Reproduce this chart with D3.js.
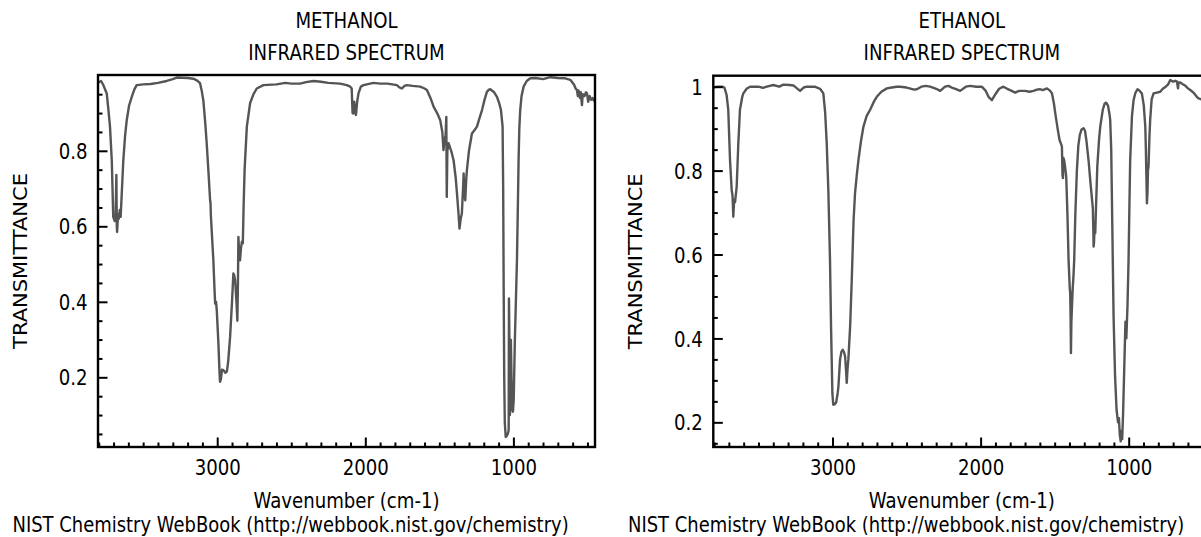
<!DOCTYPE html>
<html>
<head>
<meta charset="utf-8">
<script src="https://cdn.jsdelivr.net/npm/d3@7/dist/d3.min.js"></script>
<style>
  html, body { margin: 0; padding: 0; background: #fff; }
  svg { display: block; }
  text { font-family: "DejaVu Sans", sans-serif; fill: #000; }
</style>
</head>
<body>
<svg id="chart" width="1201" height="537"></svg>
<script>
// ---------------- DATA ----------------
const methanolWavenumber = [3805,3785,3770,3746,3735,3724,3712,3702,3692,3686,3681,3678,3676,3670,3665,3658,3652,3643,3634,3622,3611,3595,3577,3560,3544,3500,3450,3400,3341,3300,3273,3200,3161,3135,3116,3105,3094,3082,3071,3060,3048,3045,3043,3036,3026,3018,3014,3008,3003,2992,2984,2981,2975,2968,2958,2945,2935,2928,2925,2913,2900,2891,2885,2879,2870,2864,2860,2857,2852,2846,2840,2833,2827,2822,2815,2800,2778,2755,2733,2688,2600,2540,2500,2440,2400,2350,2300,2250,2170,2125,2102,2092,2086,2080,2075,2070,2063,2055,2046,2030,2012,1945,1900,1850,1787,1770,1753,1735,1719,1680,1629,1600,1584,1560,1539,1515,1494,1480,1472,1465,1458,1453,1450,1446,1438,1420,1404,1390,1381,1370,1364,1356,1348,1340,1336,1330,1325,1319,1314,1300,1280,1262,1246,1230,1212,1195,1179,1165,1156,1130,1111,1095,1084,1073,1069,1066,1062,1058,1052,1045,1038,1032,1030,1027,1024,1020,1017,1013,1008,1003,998,990,982,976,970,965,960,954,945,931,910,886,850,800,750,700,650,616,600,590,580,571,565,560,550,545,537,532,520,510,503,495,485,475,465,458,449];
const methanolTransmittance = [0.980,0.985,0.975,0.952,0.91,0.864,0.775,0.625,0.614,0.63,0.736,0.60,0.585,0.63,0.62,0.643,0.625,0.70,0.775,0.84,0.881,0.92,0.943,0.962,0.974,0.976,0.977,0.980,0.985,0.99,0.994,0.993,0.991,0.986,0.979,0.96,0.934,0.88,0.82,0.75,0.669,0.66,0.63,0.58,0.51,0.43,0.395,0.40,0.378,0.29,0.21,0.188,0.195,0.22,0.219,0.212,0.215,0.235,0.246,0.307,0.40,0.475,0.47,0.457,0.40,0.35,0.45,0.572,0.53,0.51,0.54,0.56,0.555,0.65,0.75,0.864,0.926,0.95,0.965,0.974,0.976,0.98,0.978,0.978,0.982,0.985,0.983,0.98,0.978,0.974,0.97,0.965,0.90,0.899,0.93,0.91,0.895,0.93,0.952,0.97,0.974,0.98,0.978,0.978,0.974,0.968,0.965,0.972,0.974,0.972,0.97,0.965,0.961,0.94,0.917,0.90,0.881,0.85,0.802,0.83,0.84,0.89,0.678,0.80,0.82,0.80,0.775,0.73,0.687,0.63,0.594,0.62,0.634,0.70,0.74,0.68,0.669,0.72,0.749,0.80,0.846,0.855,0.864,0.885,0.908,0.935,0.956,0.962,0.963,0.955,0.943,0.925,0.908,0.864,0.70,0.457,0.20,0.08,0.042,0.045,0.05,0.06,0.409,0.30,0.10,0.12,0.299,0.20,0.12,0.109,0.14,0.30,0.42,0.51,0.65,0.775,0.86,0.908,0.945,0.97,0.985,0.992,0.993,0.99,0.995,0.993,0.992,0.988,0.98,0.975,0.965,0.961,0.945,0.96,0.94,0.955,0.921,0.95,0.945,0.955,0.952,0.93,0.945,0.935,0.94,0.934,0.93];

const ethanolWavenumber = [3805,3780,3745,3730,3715,3704,3692,3681,3675,3670,3664,3658,3647,3636,3625,3610,3602,3580,3557,3500,3470,3444,3400,3360,3332,3290,3264,3240,3219,3195,3174,3120,3084,3062,3050,3039,3028,3017,3010,3001,2995,2985,2975,2965,2960,2949,2940,2931,2922,2915,2908,2904,2898,2893,2881,2870,2858,2848,2836,2825,2808,2791,2770,2746,2720,2701,2670,2633,2600,2566,2543,2500,2480,2450,2431,2400,2370,2341,2300,2273,2240,2217,2190,2170,2138,2100,2071,2030,1992,1965,1945,1924,1900,1875,1846,1820,1790,1767,1740,1700,1670,1643,1620,1600,1580,1552,1530,1518,1505,1496,1480,1467,1455,1451,1447,1444,1441,1436,1430,1422,1414,1406,1398,1395,1392,1390,1387,1383,1378,1373,1368,1360,1350,1340,1330,1318,1305,1295,1285,1270,1258,1250,1242,1239,1237,1234,1231,1226,1220,1212,1200,1192,1175,1162,1152,1140,1130,1125,1118,1110,1102,1092,1082,1072,1066,1060,1054,1049,1044,1038,1030,1022,1016,1008,1001,995,990,978,967,955,940,925,911,898,888,884,881,877,873,870,866,860,855,845,832,810,787,770,750,735,719,700,685,674,669,667,663,652,635,620,600,584,560,540,528,510,490,470,449];
const ethanolTransmittance = [0.998,1.0,1.0,0.998,0.98,0.945,0.825,0.754,0.74,0.69,0.73,0.725,0.762,0.865,0.945,0.975,0.984,0.995,1.0,1.0,0.997,1.0,1.004,1.0,1.005,1.004,1.003,0.996,0.99,0.998,1.0,1.0,0.995,0.984,0.94,0.865,0.75,0.587,0.429,0.27,0.242,0.243,0.248,0.27,0.286,0.35,0.368,0.373,0.367,0.357,0.32,0.294,0.33,0.35,0.429,0.54,0.68,0.746,0.79,0.825,0.87,0.905,0.93,0.945,0.965,0.976,0.988,0.996,0.998,1.0,1.0,0.998,0.996,0.993,0.994,1.0,1.002,1.0,0.995,0.99,1.0,1.002,0.997,0.995,0.99,1.0,1.002,1.0,1.0,0.99,0.975,0.968,0.982,0.995,1.0,0.995,0.99,0.986,0.99,0.99,0.988,0.99,0.993,0.994,0.992,0.996,0.99,0.984,0.96,0.937,0.9,0.873,0.862,0.857,0.79,0.782,0.83,0.825,0.81,0.786,0.70,0.587,0.52,0.508,0.44,0.365,0.44,0.476,0.52,0.548,0.587,0.70,0.80,0.86,0.885,0.898,0.901,0.895,0.87,0.82,0.77,0.74,0.71,0.66,0.619,0.63,0.66,0.651,0.72,0.81,0.875,0.905,0.945,0.96,0.962,0.955,0.935,0.921,0.85,0.65,0.45,0.31,0.23,0.2,0.21,0.17,0.155,0.18,0.16,0.22,0.33,0.44,0.40,0.48,0.587,0.72,0.825,0.93,0.968,0.985,0.994,0.99,0.984,0.955,0.905,0.85,0.794,0.722,0.75,0.80,0.81,0.88,0.921,0.97,0.984,0.986,0.988,0.995,1.0,1.005,1.016,1.012,1.014,1.012,1.0,0.996,1.01,1.01,1.006,1.003,0.996,0.992,0.985,0.976,0.972,0.97,0.97,0.97,0.97];

const xMajorTicks = [3000, 2000, 1000];
const xTickLabels = ["3000", "2000", "1000"];
const methanolYTicks = [0.2, 0.4, 0.6, 0.8];
const methanolYTickLabels = ["0.2", "0.4", "0.6", "0.8"];
const ethanolYTicks = [0.2, 0.4, 0.6, 0.8, 1.0];
const ethanolYTickLabels = ["0.2", "0.4", "0.6", "0.8", "1"];
const compounds = ["METHANOL", "ETHANOL"];
const subtitle = "INFRARED SPECTRUM";
const xAxisLabel = "Wavenumber (cm-1)";
const yAxisLabel = "TRANSMITTANCE";
const credit = "NIST Chemistry WebBook (http://webbook.nist.gov/chemistry)";

// ---------------- LAYOUT ----------------
const SX = 0.885;       // horizontal text compression seen in the reference
const FS = 20.5;
const svg = d3.select("#chart");

const panels = [
  { name: compounds[0], wn: methanolWavenumber, tr: methanolTransmittance,
    left: 98, right: 595, top: 75, bottom: 447, yDomain: [0.0154, 1.0008],
    yTicks: methanolYTicks, yLabels: methanolYTickLabels,
    yMinor: d3.range(0.05, 0.96, 0.05), ylabX: 26.5, creditX: 12.5 },
  { name: compounds[1], wn: ethanolWavenumber, tr: ethanolTransmittance,
    left: 713.3, right: 1210.3, top: 75.7, bottom: 447, yDomain: [0.1412, 1.0262],
    yTicks: ethanolYTicks, yLabels: ethanolYTickLabels,
    yMinor: d3.range(0.15, 1.001, 0.05), ylabX: 641.5, creditX: 628 }
];

function ctext(g, str, x, y, anchor, sx) {
  return g.append("text")
    .attr("transform", `translate(${x},${y}) scale(${sx || SX},1)`)
    .attr("text-anchor", anchor)
    .style("font-size", FS + "px")
    .text(str);
}

panels.forEach((p, i) => {
  const g = svg.append("g");
  const x = d3.scaleLinear().domain([3805, 449]).range([p.left, p.right]);
  const y = d3.scaleLinear().domain(p.yDomain).range([p.bottom, p.top]);
  const cx = (p.left + p.right) / 2;
  const cy = (p.top + p.bottom) / 2;

  const clipId = "clip" + i;
  svg.append("clipPath").attr("id", clipId).append("rect")
    .attr("x", p.left).attr("y", p.top)
    .attr("width", p.right - p.left).attr("height", p.bottom - p.top);

  // spectrum
  const data = p.wn.map((w, k) => [w, p.tr[k]]);
  g.append("path")
    .datum(data)
    .attr("clip-path", `url(#${clipId})`)
    .attr("fill", "none")
    .attr("stroke", "#555")
    .attr("stroke-width", 2.4)
    .attr("stroke-linejoin", "round")
    .attr("d", d3.line().x(d => x(d[0])).y(d => y(d[1])));

  // minor x ticks
  const xMinor = d3.range(500, 3801, 100).filter(v => xMajorTicks.indexOf(v) < 0);
  g.append("g")
    .attr("transform", `translate(0,${p.bottom})`)
    .call(d3.axisBottom(x).tickValues(xMinor).tickSizeInner(-4.5).tickSizeOuter(0).tickFormat(""))
    .call(a => a.select(".domain").remove())
    .call(a => a.selectAll("line").attr("stroke", "#000").attr("stroke-width", 2));

  // major x ticks
  g.append("g")
    .attr("transform", `translate(0,${p.bottom})`)
    .call(d3.axisBottom(x).tickValues(xMajorTicks).tickSizeInner(-9.5).tickSizeOuter(0)
      .tickFormat((d, k) => xTickLabels[k]))
    .call(a => a.select(".domain").remove())
    .call(a => a.selectAll("line").attr("stroke", "#000").attr("stroke-width", 2))
    .call(a => a.selectAll("text")
      .attr("y", 28).attr("dy", 0)
      .attr("transform", `scale(${SX},1)`)
      .style("font-size", FS + "px")
      .style("font-family", '"DejaVu Sans", sans-serif')
      .attr("fill", "#000"));

  // minor y ticks
  const yMinor = p.yMinor.map(v => Math.round(v * 100) / 100)
    .filter(v => p.yTicks.every(t => Math.abs(t - v) > 1e-6));
  g.append("g")
    .attr("transform", `translate(${p.left},0)`)
    .call(d3.axisLeft(y).tickValues(yMinor).tickSizeInner(-4.5).tickSizeOuter(0).tickFormat(""))
    .call(a => a.select(".domain").remove())
    .call(a => a.selectAll("line").attr("stroke", "#000").attr("stroke-width", 2));

  // major y ticks
  g.append("g")
    .attr("transform", `translate(${p.left},0)`)
    .call(d3.axisLeft(y).tickValues(p.yTicks).tickSizeInner(-9.5).tickSizeOuter(0)
      .tickFormat((d, k) => p.yLabels[k]))
    .call(a => a.select(".domain").remove())
    .call(a => a.selectAll("line").attr("stroke", "#000").attr("stroke-width", 2))
    .call(a => a.selectAll("text")
      .attr("x", -10.5 / SX).attr("dy", "0.37em")
      .attr("transform", `scale(${SX},1)`)
      .style("font-size", FS + "px")
      .style("font-family", '"DejaVu Sans", sans-serif')
      .attr("fill", "#000"));

  // frame
  g.append("rect")
    .attr("x", p.left).attr("y", p.top)
    .attr("width", p.right - p.left).attr("height", p.bottom - p.top)
    .attr("fill", "none").attr("stroke", "#000").attr("stroke-width", 2.4);

  // titles
  ctext(g, p.name, cx, 28, "middle");
  ctext(g, subtitle, cx, 60, "middle");
  ctext(g, xAxisLabel, cx, 508, "middle");
  ctext(g, credit, p.creditX, 532, "start", 0.876);

  // y label
  g.append("text")
    .attr("transform", `translate(${p.ylabX},${cy}) scale(0.93,1) rotate(-90)`)
    .attr("text-anchor", "middle")
    .style("font-size", "21px")
    .text(yAxisLabel);
});
</script>
</body>
</html>
